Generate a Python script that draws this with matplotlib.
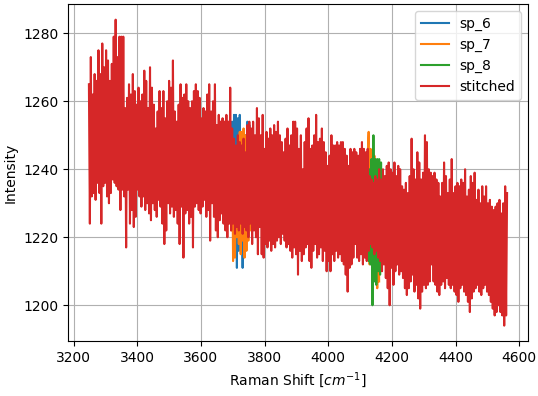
import numpy as np
import matplotlib.pyplot as plt

# stitched spectrum, evenly sampled from 3248 cm^-1 in 3 cm^-1 steps
shift_start = 3248
shift_step = 3
stitched = [
    1265, 1224, 1273, 1232, 1262, 1233, 1268, 1231, 1266, 1236,
    1275, 1233, 1268, 1224, 1277, 1235, 1270, 1236, 1275, 1232,
    1272, 1230, 1266, 1233, 1271, 1237, 1279, 1236, 1284, 1235,
    1273, 1234, 1279, 1228, 1279, 1234, 1279, 1232, 1258, 1217,
    1261, 1234, 1265, 1224, 1262, 1228, 1268, 1223, 1263, 1226,
    1259, 1234, 1264, 1232, 1260, 1229, 1262, 1232, 1269, 1228,
    1266, 1230, 1258, 1227, 1270, 1225, 1264, 1230, 1259, 1228,
    1252, 1226, 1257, 1231, 1263, 1229, 1258, 1224, 1263, 1218,
    1255, 1222, 1260, 1230, 1266, 1227, 1264, 1229, 1272, 1226,
    1257, 1228, 1254, 1224, 1259, 1218, 1265, 1229, 1261, 1214,
    1262, 1227, 1265, 1228, 1260, 1224, 1258, 1226, 1260, 1217,
    1263, 1229, 1265, 1230, 1263, 1228, 1261, 1227, 1255, 1229,
    1258, 1231, 1257, 1226, 1262, 1228, 1265, 1219, 1257, 1230,
    1260, 1226, 1265, 1222, 1253, 1220, 1256, 1225, 1254, 1227,
    1255, 1224, 1254, 1222, 1256, 1220, 1254, 1224, 1264, 1222,
    1252, 1224, 1249, 1221, 1247, 1223, 1250, 1222, 1248, 1224,
    1247, 1221, 1249, 1223, 1245, 1222, 1253, 1220, 1254, 1224,
    1252, 1218, 1254, 1222, 1250, 1220, 1258, 1215, 1255, 1223,
    1250, 1215, 1256, 1214, 1246, 1218, 1251, 1217, 1249, 1219,
    1252, 1216, 1250, 1218, 1253, 1217, 1251, 1219, 1254, 1220,
    1250, 1218, 1248, 1221, 1245, 1219, 1249, 1217, 1252, 1218,
    1247, 1216, 1250, 1214, 1254, 1217, 1254, 1215, 1252, 1209,
    1246, 1216, 1250, 1213, 1240, 1215, 1248, 1217, 1252, 1218,
    1255, 1213, 1246, 1211, 1247, 1216, 1250, 1218, 1256, 1214,
    1248, 1215, 1249, 1217, 1252, 1213, 1248, 1216, 1245, 1210,
    1241, 1213, 1244, 1210, 1250, 1215, 1247, 1213, 1247, 1216,
    1248, 1214, 1247, 1215, 1248, 1213, 1248, 1212, 1246, 1209,
    1244, 1204, 1241, 1211, 1246, 1212, 1245, 1214, 1246, 1218,
    1245, 1214, 1244, 1213, 1246, 1215, 1248, 1212, 1246, 1214,
    1245, 1213, 1246, 1216, 1238, 1218, 1237, 1217, 1236, 1215,
    1238, 1216, 1237, 1214, 1240, 1213, 1237, 1210, 1240, 1212,
    1238, 1208, 1241, 1205, 1242, 1200, 1240, 1211, 1239, 1206,
    1242, 1210, 1238, 1212, 1241, 1209, 1240, 1210, 1235, 1208,
    1234, 1205, 1236, 1203, 1233, 1205, 1238, 1207, 1249, 1209,
    1240, 1204, 1237, 1206, 1245, 1202, 1242, 1199, 1237, 1204,
    1239, 1206, 1250, 1205, 1248, 1206, 1240, 1207, 1239, 1212,
    1238, 1207, 1239, 1206, 1237, 1204, 1236, 1203, 1232, 1206,
    1236, 1207, 1242, 1205, 1238, 1208, 1233, 1206, 1237, 1205,
    1243, 1206, 1233, 1204, 1235, 1203, 1236, 1201, 1235, 1205,
    1237, 1206, 1236, 1204, 1240, 1203, 1232, 1201, 1234, 1198,
    1238, 1202, 1236, 1204, 1239, 1205, 1231, 1206, 1234, 1204,
    1230, 1203, 1235, 1205, 1232, 1206, 1235, 1204, 1230, 1203,
    1231, 1201, 1229, 1199, 1228, 1197, 1229, 1198, 1230, 1200,
    1231, 1198, 1227, 1197, 1230, 1194, 1235, 1197, 1233,
]

# individual spectra where they show from under the stitched one
sp6_start = 3689
sp6 = [1228, 1250, 1224, 1254, 1222, 1256, 1218, 1256, 1211, 1255,
       1216, 1256, 1220, 1250, 1211, 1248, 1216, 1250, 1222, 1254,
       1220, 1253, 1224, 1250, 1222]

sp7a_start = 3689
sp7a = [1230, 1244, 1222, 1246, 1213, 1245, 1214, 1244, 1220, 1246,
        1218, 1251, 1215, 1251, 1219, 1252, 1214, 1250, 1216, 1249,
        1219, 1247, 1222, 1248, 1225]
sp7b_start = 4118
sp7b = [1240, 1215, 1244, 1251, 1212, 1246, 1214, 1243, 1212, 1244,
        1210, 1240, 1205, 1241, 1207]

sp8_start = 4124
sp8 = [1236, 1213, 1240, 1212, 1243, 1200, 1250, 1207, 1243, 1206,
       1243, 1210, 1243, 1209, 1242, 1213, 1238]


def axis(start, vals):
    return start + shift_step * np.arange(len(vals))


fig = plt.figure(figsize=(5.38, 3.96), dpi=100)
fig.subplots_adjust(left=0.1264, right=0.9814, bottom=0.139, top=0.989)
ax = fig.add_subplot(111)

ax.plot(axis(sp6_start, sp6), sp6, color='C0', label='sp_6')
ax.plot(axis(sp7a_start, sp7a), sp7a, color='C1', label='sp_7')
ax.plot(axis(sp7b_start, sp7b), sp7b, color='C1')
ax.plot(axis(sp8_start, sp8), sp8, color='C2', label='sp_8')
ax.plot(axis(shift_start, stitched), stitched, color='C3', label='stitched')

ax.set_xlabel('Raman Shift [$cm^{-1}$]')
ax.set_ylabel('Intensity')
ax.legend(loc='upper right')
ax.grid()

fig.savefig('out.png', dpi=100)
